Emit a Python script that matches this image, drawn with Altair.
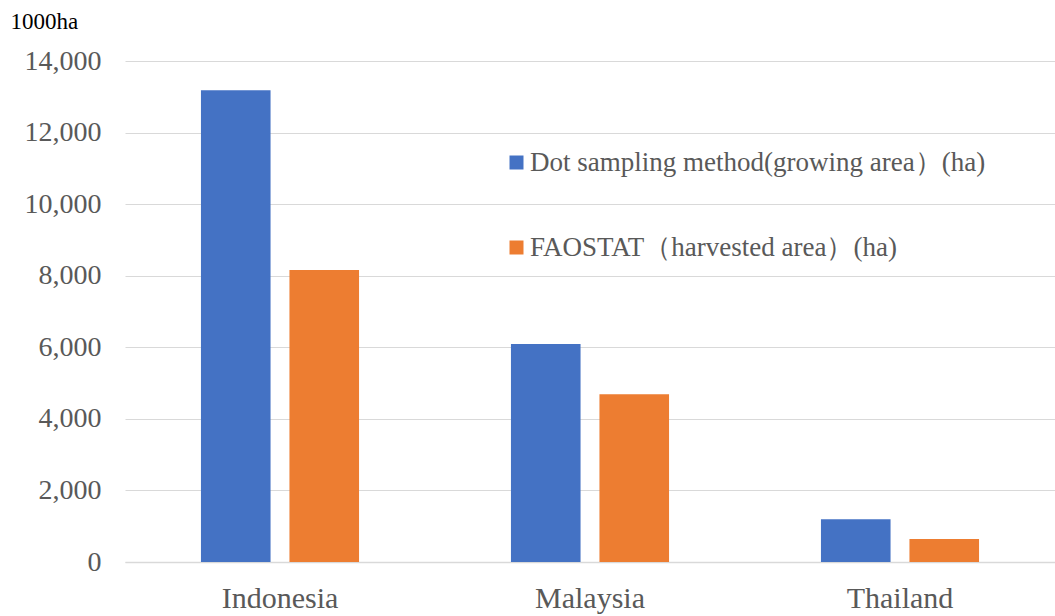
import altair as alt
import pandas as pd

countries = ["Indonesia", "Malaysia", "Thailand"]
series_names = ["Dot sampling method(growing area）(ha)", "FAOSTAT（harvested area）(ha)"]
dot_sampling = [13180, 6090, 1193]
faostat = [8160, 4685, 643]
colors = ["#4472C4", "#ED7D31"]

rows = []
for i, c in enumerate(countries):
    rows.append({"country": c, "series": series_names[0], "value": dot_sampling[i]})
    rows.append({"country": c, "series": series_names[1], "value": faostat[i]})
df = pd.DataFrame(rows)

FONT = "Liberation Serif, Times New Roman, serif"
GRAY = "#595959"

chart = alt.Chart(df).mark_bar().encode(
    x=alt.X("country:N", sort=countries, title=None,
            scale=alt.Scale(paddingInner=0.49, paddingOuter=0.245),
            axis=alt.Axis(labelAngle=0, labelFontSize=30, labelColor=GRAY,
                          labelPadding=21, ticks=False, domainColor="#d9d9d9", domainWidth=1.5)),
    xOffset=alt.XOffset("series:N", sort=series_names,
                        scale=alt.Scale(paddingInner=0.2135, paddingOuter=0)),
    y=alt.Y("value:Q", scale=alt.Scale(domain=[0, 14000], nice=False),
            axis=alt.Axis(values=list(range(0, 14001, 2000)), format=",.0f",
                          labelFontSize=28, labelColor=GRAY, labelPadding=24, ticks=False,
                          domain=False, gridColor="#d9d9d9", gridWidth=1,
                          title="1000ha", titleAngle=0, titleAlign="left", titleBaseline="top",
                          titleX=-115, titleY=-51, titleFontSize=23,
                          titleFontWeight="normal", titleColor="#000000")),
    color=alt.Color("series:N", sort=series_names,
                    scale=alt.Scale(domain=series_names, range=colors),
                    legend=alt.Legend(title=None, orient="none", legendX=378, legendY=88,
                                      symbolType="square", symbolSize=196, symbolStrokeWidth=0,
                                      labelFontSize=27, labelColor=GRAY,
                                      labelOffset=0, rowPadding=57, labelLimit=600)),
).properties(
    width=930, height=501,
    autosize=alt.AutoSizeParams(type="none"),
    padding={"left": 125, "top": 61, "right": 0, "bottom": 53},
).configure_view(stroke=None).configure_axis(
    labelFont=FONT, titleFont=FONT
).configure_legend(
    labelFont=FONT
)

chart.save("out.html", embed_options={"renderer": "svg", "actions": False})
